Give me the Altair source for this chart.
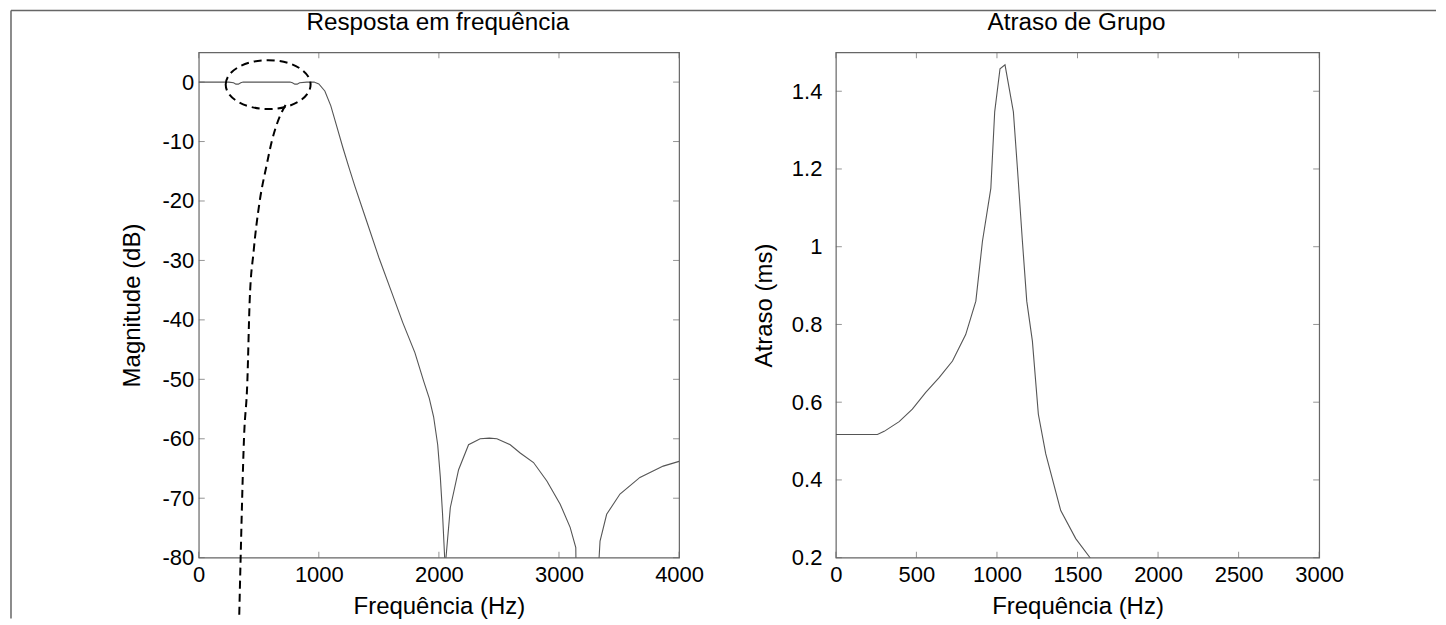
import altair as alt
import pandas as pd

# ---- Magnitude response (left panel) ----
mag_freq = [0, 250, 290, 310, 330, 350, 370, 600, 760, 780, 800, 820, 840, 900, 960,
            1000, 1050, 1100, 1150, 1200, 1250, 1300, 1400, 1500, 1600, 1700, 1800,
            1873, 1920, 1956, 1990, 2012, 2030, 2048, 2053, 2059, 2095, 2164, 2247, 2344,
            2420, 2483, 2594, 2677, 2788, 2899, 3010, 3093, 3140, 3150, 3325, 3334,
            3342, 3397, 3508, 3674, 3868, 4000]
mag_db = [0, 0, -0.1, -0.35, -0.35, -0.1, 0, 0, 0, -0.1, -0.35, -0.35, -0.1, 0, 0,
          -0.3, -1.5, -4.0, -7.5, -11.0, -14.3, -17.5, -23.5, -29.5, -35.0, -40.5, -45.5,
          -50.3, -53.2, -56.3, -61.0, -66.5, -72.5, -80, -90, -80, -71.6, -65.2, -61.0,
          -60.0, -59.9, -60.0, -61.0, -62.4, -64.0, -67.1, -71.0, -74.9, -78.3, -95, -95,
          -80, -77.2, -72.7, -69.3, -66.5, -64.6, -63.8]

# ---- Group delay (right panel) ----
gd_freq = [0, 258, 300, 393, 475, 558, 641, 724, 806, 869, 910, 962, 986, 1019, 1050,
           1102, 1127, 1158, 1185, 1220, 1257, 1303, 1396, 1489, 1578, 1600]
gd_ms = [0.517, 0.517, 0.525, 0.550, 0.582, 0.625, 0.663, 0.706, 0.774, 0.860, 1.014,
         1.150, 1.347, 1.458, 1.468, 1.347, 1.202, 1.014, 0.860, 0.757, 0.569, 0.467,
         0.321, 0.249, 0.200, 0.180]

# ---- Annotation (dashed ellipse + dashed pointer curve), in data units ----
ell_freq = [578]
ell_db = [-0.42]
ptr_freq = [723, 657, 607, 566, 507, 457, 424, 405, 377, 349, 337]
ptr_db = [-3.86, -6.71, -10.06, -13.92, -20.13, -28.5, -36.9, -50.3, -59.9, -80, -90]

# ---- Axis ticks ----
l_xticks = [0, 1000, 2000, 3000, 4000]
l_yticks = [0, -10, -20, -30, -40, -50, -60, -70, -80]
r_xticks = [0, 500, 1000, 1500, 2000, 2500, 3000]
r_yticks = [0.2, 0.4, 0.6, 0.8, 1.0, 1.2, 1.4]

L_XDOM = [0, 4000]
L_YDOM = [-80, 5]
R_XDOM = [0, 3000]
R_YDOM = [0.2, 1.5]

W1, W2, H = 481, 484, 506
FONT = "Liberation Sans"
LFS = 22     # tick labels
AFS = 24     # axis titles
TFS = 24.3   # panel titles
LINE = "#555555"
FRAME = "#666666"
LBL = "'' + datum.value"

mag = pd.DataFrame({"f": mag_freq, "db": mag_db})
gd = pd.DataFrame({"f": gd_freq, "ms": gd_ms})
ell = pd.DataFrame({"f": ell_freq, "db": ell_db})
ptr = pd.DataFrame({"f": ptr_freq, "db": ptr_db, "o": list(range(len(ptr_freq)))})


def panel(df, xf, yf, xdom, ydom, xticks, yticks, w, xtitle, ytitle, title,
          ylabpad, ytitlepad):
    xs = alt.Scale(domain=xdom, nice=False, zero=False)
    ys = alt.Scale(domain=ydom, nice=False, zero=False)
    xax = alt.Axis(values=xticks, title=xtitle, labelExpr=LBL, labelPadding=7,
                   labelFlush=False, labelOverlap=False, titlePadding=9)
    yax = alt.Axis(values=yticks, title=ytitle, labelExpr=LBL, labelPadding=ylabpad,
                   labelFlush=False, labelOverlap=False, titlePadding=ytitlepad)
    line = alt.Chart(df).mark_line(color=LINE, strokeWidth=1.1, clip=True).encode(
        x=alt.X(f"{xf}:Q", scale=xs, axis=xax),
        y=alt.Y(f"{yf}:Q", scale=ys, axis=yax),
        order=alt.Order(f"{xf}:Q"),
    )
    xt = pd.DataFrame({"v": xticks})
    yt = pd.DataFrame({"v": yticks})
    tk = dict(color=FRAME, size=6, thickness=1)
    bot = alt.Chart(xt).mark_tick(orient="vertical", **tk).encode(
        x=alt.X("v:Q", scale=xs), y=alt.value(H - 3))
    top = alt.Chart(xt).mark_tick(orient="vertical", **tk).encode(
        x=alt.X("v:Q", scale=xs), y=alt.value(3))
    lft = alt.Chart(yt).mark_tick(orient="horizontal", **tk).encode(
        y=alt.Y("v:Q", scale=ys), x=alt.value(3))
    rgt = alt.Chart(yt).mark_tick(orient="horizontal", **tk).encode(
        y=alt.Y("v:Q", scale=ys), x=alt.value(w - 3))
    ttl = alt.Chart(ell).mark_text(
        text=title, font=FONT, fontSize=TFS, color="black", align="center",
        baseline="alphabetic", clip=False,
    ).encode(x=alt.value(w / 2 - 1), y=alt.value(-22))
    return [line, bot, top, lft, rgt, ttl], xs, ys


layers1, xs1, ys1 = panel(mag, "f", "db", L_XDOM, L_YDOM, l_xticks, l_yticks, W1,
                          "Frequência (Hz)", "Magnitude (dB)", "Resposta em frequência",
                          5, 18)
ellipse = alt.Chart(ell).mark_point(
    shape="M -1 0 A 1 0.576 0 1 1 1 0 A 1 0.576 0 1 1 -1 0 Z",
    size=85 * 85, filled=False, color="black", strokeWidth=2,
    strokeDash=[8, 5], opacity=1, clip=False,
).encode(x=alt.X("f:Q", scale=xs1), y=alt.Y("db:Q", scale=ys1))
pointer = alt.Chart(ptr).mark_line(
    color="black", strokeWidth=2, strokeDash=[8, 5], interpolate="monotone", clip=False
).encode(x=alt.X("f:Q", scale=xs1), y=alt.Y("db:Q", scale=ys1), order="o:Q")

# outer figure frame (decoration; also fixes the chart's bounds)
frame_top = alt.Chart(ell).mark_rule(color=FRAME, strokeWidth=1.5, clip=False).encode(
    x=alt.value(-188), x2=alt.value(1239), y=alt.value(-42))
frame_left = alt.Chart(ell).mark_rule(color=FRAME, strokeWidth=1.5, clip=False).encode(
    x=alt.value(-188), y=alt.value(-42), y2=alt.value(567))

left = alt.layer(*layers1, ellipse, pointer, frame_top, frame_left).properties(
    width=W1, height=H)

layers2, xs2, ys2 = panel(gd, "f", "ms", R_XDOM, R_YDOM, r_xticks, r_yticks, W2,
                          "Frequência (Hz)", "Atraso (ms)", "Atraso de Grupo", 14, 15)
right = alt.layer(*layers2).properties(width=W2, height=H)

chart = alt.hconcat(left, right, spacing=157, bounds="flush").properties(
    padding={"left": 1, "top": 0, "right": 0, "bottom": 0},
).configure_view(stroke=FRAME, strokeWidth=1.2).configure_axis(
    grid=False, domain=False, ticks=False,
    labelFont=FONT, labelFontSize=LFS, labelColor="black",
    titleFont=FONT, titleFontSize=AFS, titleFontWeight="normal", titleColor="black",
)

chart.save("out.html", embed_options={"renderer": "svg", "actions": False})
